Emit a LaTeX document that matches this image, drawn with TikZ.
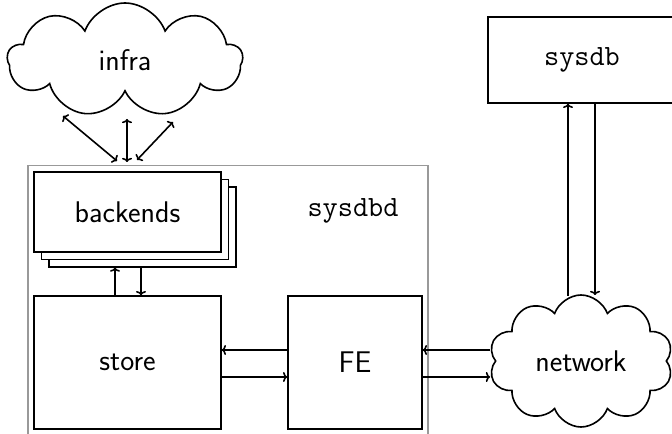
\documentclass[tikz,border=0pt]{standalone}
\usetikzlibrary{shapes.symbols,calc,arrows.meta}
\begin{document}
\begin{tikzpicture}[x=1bp,y=-1bp,
  >={To[length=4.2bp,width=10bp]},
  box/.style={draw,line width=1.6bp,fill=white,inner sep=0pt},
  layer/.style={box,line width=1.2bp,minimum width=187bp,minimum height=80bp},
  sflabel/.style={font=\fontsize{30}{36}\selectfont\sffamily},
  ttlabel/.style={font=\fontsize{29.5}{34}\selectfont\ttfamily},
  cloudshape/.style={cloud,draw,line width=1.6bp,cloud ignores aspect,inner sep=0pt,cloud puff arc=140},
  conn/.style={line width=1.6bp,->},
  biconn/.style={line width=1.6bp,<->}]
\useasboundingbox (0,0) rectangle (672,434);
\clip (0,0) rectangle (672,434);

% daemon container
\node[draw=gray!80,line width=1.5bp,minimum width=400bp,minimum height=290bp,
      inner sep=0pt,anchor=north west] (sysdbd) at (27,165) {};
\node[ttlabel] (sysdbdlabel) at (353,211) {sysdbd};

% stacked backends
\node[layer] (back2) at (142.5,227) {};
\node[layer] (back1) at (135,219.5) {};
\node[box,minimum width=187bp,minimum height=80bp,sflabel] (backends) at (127.5,212) {backends};

% store and front end
\node[box,minimum width=187bp,minimum height=133bp,sflabel] (store) at (127.5,362.5) {store};
\node[box,minimum width=134bp,minimum height=133bp,sflabel] (FE) at (355,362.5) {FE};

% external database
\node[box,minimum width=188bp,minimum height=86bp,ttlabel] (sysdb) at (582,60) {sysdb};

% clouds
\node[cloudshape,cloud puffs=9,minimum width=235bp,minimum height=114bp,sflabel] (infra) at (125,60) {infra};
\node[cloudshape,cloud puffs=10,minimum width=184bp,minimum height=132bp,sflabel] (network) at (581,361) {network};

% infra links
\coordinate (ia) at (63,116);
\coordinate (ib) at (127,119);
\coordinate (ic) at (173,122);
\coordinate (ha) at (117,161);
\coordinate (hb) at (127,162);
\coordinate (hc) at (137,160);
\draw[biconn] (ia) -- (ha);
\draw[biconn] (ib) -- (hb);
\draw[biconn] (ic) -- (hc);

% store <-> backends
\draw[conn] (store.north -| 115,0) -- (back2.south -| 115,0);
\draw[conn] (back2.south -| 141,0) -- (store.north -| 141,0);

% store <-> FE
\draw[conn] (FE.west |- 0,350) -- (store.east |- 0,350);
\draw[conn] (store.east |- 0,377) -- (FE.west |- 0,377);

% FE <-> network
\coordinate (netout) at (490,350);
\coordinate (netin) at (490,377);
\draw[conn] (netout) -- (FE.east |- netout);
\draw[conn] (FE.east |- netin) -- (netin);

% network <-> sysdb
\coordinate (nettop1) at (568,296);
\coordinate (nettop2) at (595,295);
\draw[conn] (nettop1) -- (sysdb.south -| nettop1);
\draw[conn] (sysdb.south -| nettop2) -- (nettop2);
\end{tikzpicture}
\end{document}
